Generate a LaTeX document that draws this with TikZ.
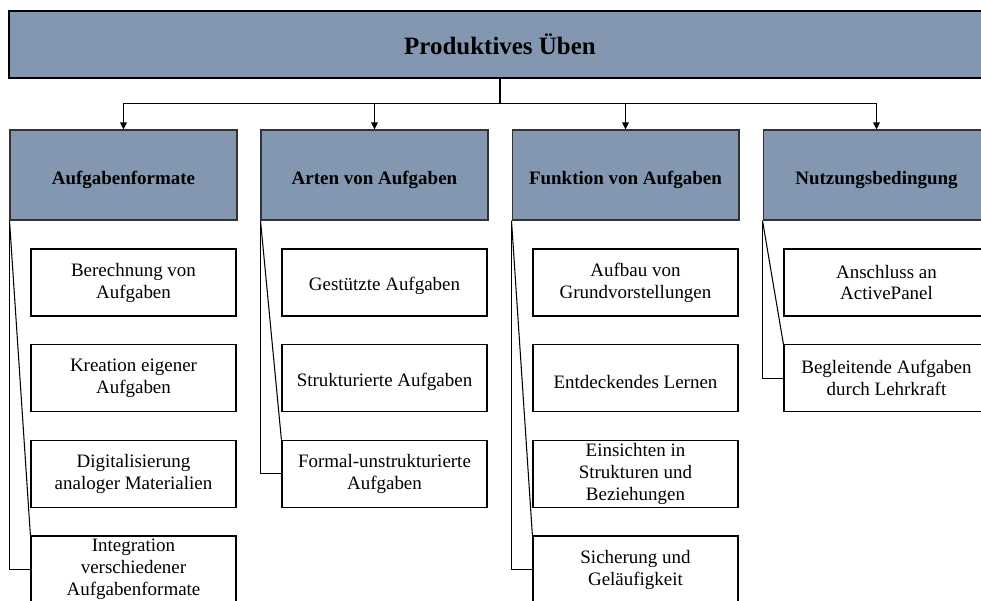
\documentclass[tikz,border=0pt]{standalone}
\usepackage{xcolor}
\usepackage{fontspec}
\setmainfont{Liberation Serif}
\usepackage{tikz}
\usetikzlibrary{shapes}
\usetikzlibrary{arrows.meta}

\definecolor{headblue}{HTML}{8497B0}

\begin{document}
\begin{tikzpicture}[
  x=0.02cm, y=-0.02cm,
  font=\fontsize{10.8pt}{12.5pt}\selectfont
]
\tikzset{
    topbox/.style = {rectangle, draw=black, line width=1.1pt, fill=headblue, minimum width=19.64cm, minimum height=1.34cm, font=\fontsize{14.2pt}{16pt}\selectfont\bfseries},
    headbox/.style = {rectangle, draw=black!80, line width=0.6pt, fill=headblue, minimum width=4.54cm, minimum height=1.8cm, text height=13.5pt, text depth=2.5pt, font=\fontsize{10.8pt}{12.5pt}\selectfont\bfseries},
    basebox/.style = {rectangle, draw=black, line width=0.7pt, fill=white, align=center, inner sep=0.5pt, minimum width=4.1cm, minimum height=1.34cm},
    itembox/.style = {basebox, execute at begin node={\rule{0pt}{12pt}}},
    link/.style = {draw=black, line width=0.6pt},
    tip/.style = {-{Triangle[length=0.14cm,width=0.13cm]}},
}
\useasboundingbox (0,0) rectangle (981,601);
\clip (0,0) rectangle (981,601);

% top level
\node[topbox] (uben) at (500,44.5) {Produktives Üben};

% categories
\node[headbox] (formate)  at (123.5,175) {Aufgabenformate};
\node[headbox] (arten)    at (374.5,175) {Arten von Aufgaben};
\node[headbox] (funktion) at (625.5,175) {Funktion von Aufgaben};
\node[headbox] (nutzung)  at (876.5,175) {Nutzungsbedingung};

\draw[link] (uben.south) -- ++(0,25) coordinate (bus);
\draw[link,tip] (bus) -| (formate.north);
\draw[link,tip] (bus) -| (arten.north);
\draw[link,tip] (bus) -| (funktion.north);
\draw[link,tip] (bus) -| (nutzung.north);

% Aufgabenformate
\node[itembox] (f1) at (133.5,282.5) {Berechnung von\\Aufgaben};
\node[itembox] (f2) at (133.5,378.2) {Kreation eigener\\Aufgaben};
\node[itembox] (f3) at (133.5,473.8) {Digitalisierung\\analoger Materialien};
\node[basebox] (f4) at (133.5,569.5) {Integration\\verschiedener\\Aufgabenformate};

% Arten von Aufgaben
\node[itembox] (a1) at (384.5,282.5) {Gestützte Aufgaben};
\node[itembox] (a2) at (384.5,378.2) {Strukturierte Aufgaben};
\node[itembox] (a3) at (384.5,473.8) {Formal-unstrukturierte\\Aufgaben};

% Funktion von Aufgaben
\node[itembox] (u1) at (635.5,282.5) {Aufbau von\\Grundvorstellungen};
\node[itembox] (u2) at (635.5,378.2) {Entdeckendes Lernen};
\node[basebox] (u3) at (635.5,473.8) {Einsichten in\\Strukturen und\\Beziehungen};
\node[itembox] (u4) at (635.5,569.5) {Sicherung und\\Geläufigkeit};

% Nutzungsbedingung
\node[itembox] (n1) at (886.5,282.5) {Anschluss an\\ActivePanel};
\node[itembox] (n2) at (886.5,378.2) {Begleitende Aufgaben\\durch Lehrkraft};

\draw[link] (formate.south west) |- (f4.west);
\draw[link] (formate.south west) -- (f4.north west);
\draw[link] (arten.south west) |- (a3.west);
\draw[link] (arten.south west) -- (a3.north west);
\draw[link] (funktion.south west) |- (u4.west);
\draw[link] (funktion.south west) -- (u4.north west);
\draw[link] (nutzung.south west) |- (n2.west);
\draw[link] (nutzung.south west) -- (n2.north west);
\end{tikzpicture}
\end{document}
